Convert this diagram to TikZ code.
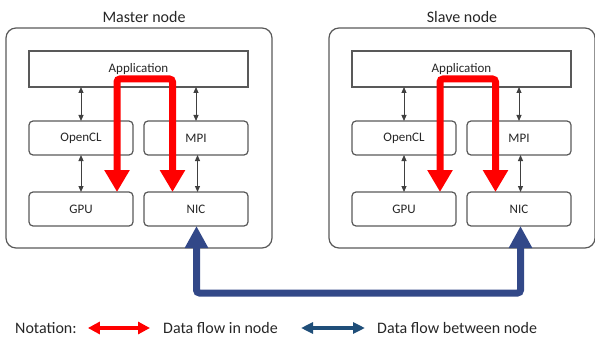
\documentclass[tikz,border=0pt]{standalone}
\usepackage{fontspec}
\setmainfont{Carlito}
\usetikzlibrary{arrows.meta,%
                positioning}
\definecolor{boxgray}{RGB}{89,89,89}
\definecolor{linkblue}{RGB}{50,72,136}
\definecolor{legblue}{RGB}{31,78,121}

\begin{document}
\begin{tikzpicture}[x=1pt,y=-1pt]
  \tikzset{BoxStyle/.style = {shape          = rectangle,
                              draw           = boxgray,
                              line width     = 1.2pt,
                              rounded corners= 4pt,
                              text           = black!85,
                              inner sep      = 0pt,
                              outer sep      = 0pt,
                              minimum width  = 104pt,
                              minimum height = 34pt,
                              font           = \fontsize{13}{15}\selectfont},
           HostStyle/.style = {BoxStyle, rounded corners=10pt, minimum width=266pt, minimum height=220pt},
           AppStyle/.style  = {BoxStyle, rounded corners=0pt, minimum width=219pt, minimum height=36pt},
           TitleStyle/.style= {text=black!85, font=\fontsize{16}{19}\selectfont},
           CallArrow/.style = {draw=black!75, line width=1pt, {Triangle[length=6pt,width=5pt]}-{Triangle[length=6pt,width=5pt]}},
           InFlow/.style    = {draw=red, line width=7pt, rounded corners=3pt, {Triangle[length=22pt,width=24pt]}-{Triangle[length=22pt,width=24pt]}},
           LinkFlow/.style  = {draw=linkblue, line width=7pt, rounded corners=3pt, {Triangle[length=22pt,width=22pt]}-{Triangle[length=22pt,width=22pt]}}}
  \useasboundingbox (0,0) rectangle (595,337);
	%%% MASTER %%%
	\node[HostStyle](hostM) at (139,138){};
	\node[TitleStyle](titleM) at (144,17){Master node};
	\node[AppStyle](appM) at (138.5,69){Application};
	\node[BoxStyle](openclM) at (81,138){OpenCL};
	\node[BoxStyle, right=11pt of openclM](mpiM){MPI};
	\node[BoxStyle, below=37pt of openclM](gpuM){GPU};
	\node[BoxStyle, below=37pt of mpiM](nicM){NIC};
	\draw[CallArrow](openclM.north) to (openclM.north |- appM.south);
	\draw[CallArrow](mpiM.north) to (mpiM.north |- appM.south);
	\draw[CallArrow](openclM.south) to (gpuM.north);
	\draw[CallArrow]([xshift=1.5pt]mpiM.south) to ([xshift=1.5pt]nicM.north);
	\draw[InFlow]([xshift=36pt]gpuM.north) -- ++(0,-113) -| ([xshift=-23.5pt]nicM.north);
	%%% SLAVE %%%
	\node[HostStyle](hostS) at (462,138){};
	\node[TitleStyle](titleS) at (462,17){Slave node};
	\node[AppStyle](appS) at (461.5,69){Application};
	\node[BoxStyle](openclS) at (404,138){OpenCL};
	\node[BoxStyle, right=11pt of openclS](mpiS){MPI};
	\node[BoxStyle, below=37pt of openclS](gpuS){GPU};
	\node[BoxStyle, below=37pt of mpiS](nicS){NIC};
	\draw[CallArrow](openclS.north) to (openclS.north |- appS.south);
	\draw[CallArrow](mpiS.north) to (mpiS.north |- appS.south);
	\draw[CallArrow](openclS.south) to (gpuS.north);
	\draw[CallArrow]([xshift=1.5pt]mpiS.south) to ([xshift=1.5pt]nicS.north);
	\draw[InFlow]([xshift=36pt]gpuS.north) -- ++(0,-113) -| ([xshift=-23.5pt]nicS.north);
	%%% LINK %%%
	\draw[LinkFlow]([xshift=0.5pt]nicM.south) -- ++(0,67) -| ([xshift=1.5pt]nicS.south);
	%%% NOTATION %%%
	\node[TitleStyle, anchor=west, inner sep=0pt](notation) at (15,328){Notation:};
	\node[TitleStyle, anchor=west, inner sep=0pt](inNode) at (163,328){Data flow in node};
	\node[TitleStyle, anchor=west, inner sep=0pt](betweenNode) at (377,328){Data flow between node};
	\draw[InFlow, line width=4pt, {Triangle[length=12pt,width=12pt]}-{Triangle[length=12pt,width=12pt]}]([xshift=11pt]notation.east) -- ([xshift=-13pt]inNode.west);
	\draw[LinkFlow, draw=legblue, line width=3.5pt, {Triangle[length=12pt,width=11pt]}-{Triangle[length=12pt,width=11pt]}]([xshift=23pt]inNode.east) -- ([xshift=-12pt]betweenNode.west);
\end{tikzpicture}
\end{document}
